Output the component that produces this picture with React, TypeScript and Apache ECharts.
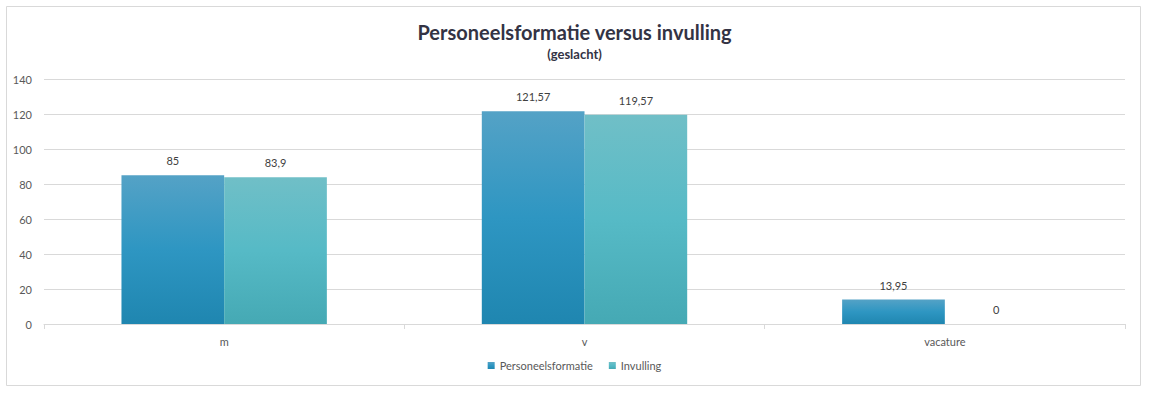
import React, { useEffect, useRef } from "react";
import * as echarts from "echarts";

const categories = ["m", "v", "vacature"];
const formatieValues = [85, 121.57, 13.95];
const invullingValues = [83.9, 119.57, 0];
const seriesNames = ["Personeelsformatie", "Invulling"];
const titleText = "Personeelsformatie versus invulling";
const subtitleText = "(geslacht)";

const FONT = "Lato, 'Open Sans', sans-serif";

const fmt = (v: number) => String(v).replace(".", ",");

export default function App() {
  const ref = useRef<HTMLDivElement>(null);
  useEffect(() => {
    document.body.style.margin = "0";
    if (!ref.current) return;
    const chart = echarts.init(ref.current, undefined, { renderer: "svg" });
    const grad = (top: string, mid: string, bottom: string) =>
      new echarts.graphic.LinearGradient(0, 0, 0, 1, [
        { offset: 0, color: top },
        { offset: 0.5, color: mid },
        { offset: 1, color: bottom },
      ]);
    const labelCfg = {
      show: true,
      position: "top" as const,
      distance: 9,
      color: "#404040",
      fontSize: 11,
      fontFamily: FONT,
      formatter: (p: any) => fmt(p.value),
    };
    chart.setOption({
      animation: false,
      backgroundColor: "#ffffff",
      title: [
        {
          text: titleText,
          left: "center",
          top: 17,
          textStyle: { fontFamily: FONT, fontSize: 20, fontWeight: "bold", color: "#333344" },
        },
        {
          text: subtitleText,
          left: "center",
          top: 42,
          textStyle: { fontFamily: FONT, fontSize: 13, fontWeight: "bold", color: "#333344" },
        },
      ],
      graphic: [
        {
          type: "rect",
          shape: { x: 6.5, y: 6.5, width: 1134, height: 379 },
          style: { fill: "none", stroke: "#d9d9d9", lineWidth: 1 },
          silent: true,
        },
      ],
      legend: {
        bottom: 17,
        left: "center",
        itemWidth: 7,
        itemHeight: 7,
        itemGap: 16,
        icon: "rect",
        textStyle: { fontFamily: FONT, fontSize: 11, color: "#595959" },
        data: seriesNames,
      },
      grid: { left: 44, right: 24, top: 79, bottom: 69, containLabel: false },
      xAxis: {
        type: "category",
        data: categories,
        axisLine: { lineStyle: { color: "#d9d9d9" } },
        axisTick: { show: true, length: 5, lineStyle: { color: "#d9d9d9" } },
        axisLabel: { color: "#595959", fontSize: 11, fontFamily: FONT, margin: 12 },
      },
      yAxis: {
        type: "value",
        min: 0,
        max: 140,
        interval: 20,
        axisLine: { show: false },
        axisTick: { show: false },
        splitLine: { lineStyle: { color: "#d9d9d9" } },
        axisLabel: { color: "#595959", fontSize: 11, fontFamily: FONT, margin: 12 },
      },
      series: [
        {
          name: seriesNames[0],
          type: "bar",
          data: formatieValues,
          barGap: "0%",
          barCategoryGap: "43%",
          itemStyle: { color: grad("#54a2c6", "#2e96c2", "#1f86b0") },
          label: labelCfg,
        },
        {
          name: seriesNames[1],
          type: "bar",
          data: invullingValues,
          itemStyle: { color: grad("#70bfc7", "#56bac6", "#45a9b4") },
          label: labelCfg,
        },
      ],
    });
    return () => chart.dispose();
  }, []);
  return <div ref={ref} style={{ width: 1149, height: 393 }} />;
}
